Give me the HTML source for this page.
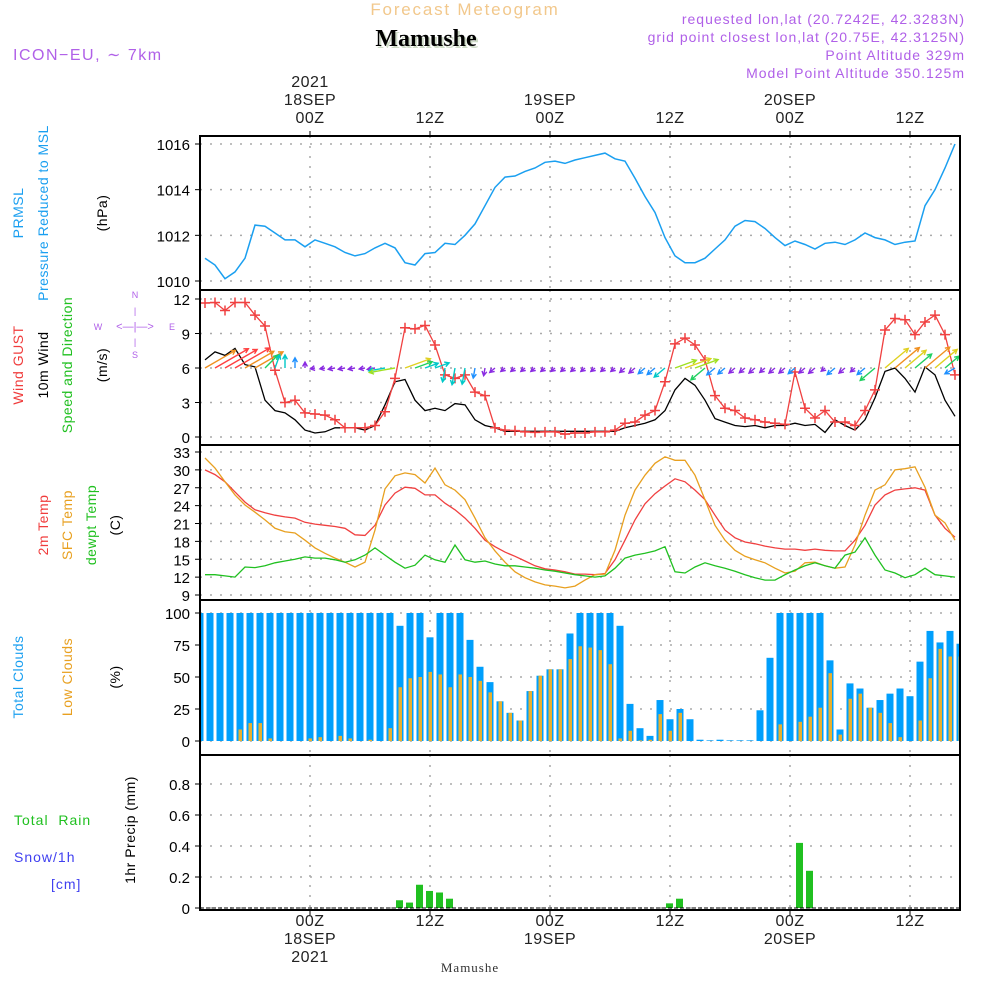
<!DOCTYPE html>
<html><head><meta charset="utf-8"><style>
html,body{margin:0;padding:0;background:#fff;}
svg{display:block;font-family:"Liberation Sans",sans-serif;}
</style></head><body>
<svg id="chart" width="1000" height="1000" viewBox="0 0 1000 1000">
<defs><clipPath id="plotclip"><rect x="200" y="130" width="760" height="785"/></clipPath></defs>
<g id="static">
<text x="465" y="15" fill="#f2c88c" font-size="17" text-anchor="middle" letter-spacing="1.8">Forecast Meteogram</text>
<text x="428" y="48" fill="#cfdcc8" font-size="24" font-weight="bold" font-family="Liberation Serif,serif" text-anchor="middle">Mamushe</text>
<text x="426" y="46" fill="#000" font-size="24" font-weight="bold" font-family="Liberation Serif,serif" text-anchor="middle">Mamushe</text>
<g fill="#b060e8" font-size="14" letter-spacing="1" text-anchor="end">
<text x="965" y="24">requested lon,lat (20.7242E, 42.3283N)</text>
<text x="965" y="42">grid point closest lon,lat (20.75E, 42.3125N)</text>
<text x="965" y="60">Point Altitude 329m</text>
<text x="965" y="78">Model Point Altitude 350.125m</text>
</g>
<text x="13" y="60" fill="#b060e8" font-size="16" letter-spacing="1.5">ICON−EU, ∼ 7km</text>
<text x="970" y="745" fill="#d8d8d8" font-size="14" font-family="Liberation Serif,serif" transform="rotate(-90 978 710)">by Angel</text>
<text x="470" y="972" fill="#333" font-size="13" font-family="Liberation Serif,serif" text-anchor="middle" letter-spacing="1">Mamushe</text>
<g font-size="14" letter-spacing="0.5" text-anchor="middle">
<text transform="translate(23,213) rotate(-90)" fill="#1a9ff0">PRMSL</text>
<text transform="translate(48,213) rotate(-90)" fill="#1a9ff0">Pressure Reduced to MSL</text>
<text transform="translate(107,213) rotate(-90)" fill="#000">(hPa)</text>
<text transform="translate(23,365) rotate(-90)" fill="#f03c3c">Wind GUST</text>
<text transform="translate(48,365) rotate(-90)" fill="#000">10m Wind</text>
<text transform="translate(72,365) rotate(-90)" fill="#20c020">Speed and Direction</text>
<text transform="translate(107,365) rotate(-90)" fill="#000">(m/s)</text>
<text transform="translate(48,525) rotate(-90)" fill="#f03c3c">2m Temp</text>
<text transform="translate(72,525) rotate(-90)" fill="#e8a020">SFC Temp</text>
<text transform="translate(96,525) rotate(-90)" fill="#20c020">dewpt Temp</text>
<text transform="translate(120,525) rotate(-90)" fill="#000">(C)</text>
<text transform="translate(23,677) rotate(-90)" fill="#1a9ff0">Total Clouds</text>
<text transform="translate(72,677) rotate(-90)" fill="#e8a020">Low Clouds</text>
<text transform="translate(120,677) rotate(-90)" fill="#000">(%)</text>
<text transform="translate(135,830) rotate(-90)" fill="#000">1hr Precip (mm)</text>
</g>
<text x="14" y="825" fill="#20c020" font-size="14" letter-spacing="1" xml:space="preserve">Total  Rain</text>
<text x="14" y="862" fill="#4040f0" font-size="14" letter-spacing="1">Snow/1h</text>
<text x="51" y="889" fill="#4040f0" font-size="14" letter-spacing="1">[cm]</text>
<g fill="#b060e8" font-size="9" text-anchor="middle">
<text x="135" y="298">N</text><text x="135" y="358">S</text><text x="98" y="330">W</text><text x="172" y="330">E</text>
<text x="135" y="330" font-size="11">&lt;—|—&gt;</text>
<text x="135" y="314" font-size="9">|</text><text x="135" y="345" font-size="9">|</text>
</g>
</g>
<g id="dyn"></g>
</svg>
<script>
const NS="http://www.w3.org/2000/svg";
const timeTicks=[{h:11,day:"18SEP",yr:"2021",z:"00Z"},{h:23,z:"12Z"},{h:35,day:"19SEP",z:"00Z"},{h:47,z:"12Z"},{h:59,day:"20SEP",z:"00Z"},{h:71,z:"12Z"}];
const pressure=[1011.0,1010.7,1010.1,1010.4,1011.0,1012.45,1012.4,1012.1,1011.8,1011.8,1011.5,1011.8,1011.65,1011.5,1011.25,1011.1,1011.2,1011.45,1011.65,1011.45,1010.8,1010.7,1011.2,1011.25,1011.65,1011.6,1012.0,1012.5,1013.3,1014.1,1014.55,1014.6,1014.8,1014.95,1015.2,1015.25,1015.15,1015.3,1015.4,1015.5,1015.6,1015.35,1015.25,1014.5,1013.7,1013.0,1011.9,1011.1,1010.8,1010.8,1011.0,1011.4,1011.8,1012.4,1012.65,1012.6,1012.3,1011.9,1011.55,1011.75,1011.6,1011.4,1011.65,1011.7,1011.6,1011.8,1012.1,1011.9,1011.8,1011.6,1011.7,1011.75,1013.3,1014.0,1014.95,1016.0];
const wind10m=[6.7,7.4,7.1,7.7,6.3,6.1,3.2,2.3,2.1,1.5,0.6,0.35,0.45,0.8,0.8,0.8,0.6,1.0,2.8,4.8,5.0,3.2,2.3,2.5,2.3,2.9,2.8,1.5,1.0,0.8,0.5,0.5,0.5,0.5,0.5,0.5,0.5,0.5,0.5,0.5,0.5,0.5,0.8,1.0,1.2,1.5,2.3,4.1,5.1,4.5,3.2,1.6,1.3,1.0,0.9,1.0,0.8,1.0,1.0,1.2,1.0,1.1,0.4,1.5,1.0,0.6,1.5,3.4,5.7,6.0,5.1,3.9,6.1,5.4,3.2,1.8];
const gust=[11.65,11.7,11.0,11.7,11.7,10.6,9.65,5.8,3.0,3.2,2.1,2.0,1.9,1.5,0.8,0.8,0.8,1.0,2.2,5.1,9.5,9.4,9.7,8.0,5.4,5.1,5.4,3.9,3.6,0.8,0.6,0.55,0.45,0.4,0.45,0.45,0.25,0.35,0.35,0.45,0.45,0.6,1.2,1.3,1.9,2.3,4.8,8.1,8.6,8.0,6.7,3.6,2.5,2.3,1.65,1.5,1.3,1.2,1.1,5.65,2.5,1.65,2.3,1.3,1.3,1.0,2.3,4.1,9.3,10.3,10.2,8.9,10.0,10.6,8.9,5.4];
const windDir=[240,240,240,240,240,240,225,200,180,180,180,80,80,80,80,80,80,80,80,80,250,250,250,250,10,10,10,10,10,50,50,50,50,50,50,50,50,50,50,50,50,50,50,50,50,50,50,250,250,250,50,50,50,50,50,50,50,50,50,50,50,50,50,50,50,50,50,50,230,230,230,230,230,230,230,60];
const temp2m=[30.0,29.2,28.0,26.3,24.6,23.3,22.8,22.4,22.1,21.9,21.2,20.9,20.7,20.5,20.2,19.1,19.0,20.7,24.1,26.1,27.1,26.9,25.8,25.8,24.4,23.3,21.9,20.2,18.2,17.1,16.2,15.5,14.7,13.9,13.4,13.2,12.9,12.5,12.5,12.4,12.6,14.9,18.2,21.6,24.3,26.0,27.3,28.5,28.0,26.6,25.0,22.4,19.9,18.6,17.9,17.6,17.2,16.9,16.7,16.7,16.5,16.7,16.5,16.4,16.4,18.2,20.7,24.1,25.8,26.6,26.8,27.0,26.6,22.4,20.2,18.7];
const sfcTemp=[32.0,30.3,28.0,25.8,24.1,22.9,21.6,20.2,19.6,19.4,18.2,16.9,16.0,15.2,14.5,13.7,14.5,19.9,26.8,29.0,29.5,29.2,27.8,30.3,27.5,26.6,25.0,21.9,18.6,16.4,14.5,12.9,11.9,11.2,10.7,10.5,10.2,10.5,11.5,12.4,12.5,16.5,22.4,26.6,29.1,31.1,32.2,31.6,31.6,29.1,25.0,20.7,18.2,16.5,15.5,14.9,14.4,13.5,12.7,13.0,14.4,14.5,13.9,13.5,13.7,17.4,22.4,26.6,27.5,30.0,30.2,30.5,27.1,22.4,21.1,18.2];
const dewpt=[12.4,12.4,12.2,12.0,13.7,13.6,13.9,14.4,14.7,15.0,15.4,15.2,15.2,14.9,14.5,14.9,15.7,16.9,15.7,14.5,13.5,14.0,15.7,14.9,14.5,17.4,14.9,14.5,14.7,14.2,13.9,13.9,13.7,13.5,13.2,13.0,12.7,12.4,12.2,12.0,12.2,13.5,15.2,15.7,16.0,16.4,17.1,12.9,12.7,13.7,14.4,13.9,13.5,13.0,12.4,11.9,11.5,11.5,12.4,13.2,13.9,14.4,13.9,13.5,15.7,16.2,18.6,15.7,13.2,12.7,11.9,12.4,13.5,12.4,12.2,12.0];
const totalClouds=[100,100,100,100,100,100,100,100,100,100,100,100,100,100,100,100,100,100,100,100,90,100,100,81,100,100,100,79,58,46,31,22,16,39,51,56,56,84,100,100,100,100,90,29,10,4,32,17,25,17,1,0.5,1,0.5,0.5,0.5,24,65,100,100,100,100,100,63,9,45,41,26,32,37,41,35,62,86,77,86,76];
const lowClouds=[0,0,0,0,9,14,14,2,0,0,0,2,3,0,4,2,0,1,0,10,42,49,50,54,52,42,52,50,47,38,31,22,16,39,51,56,56,64,74,73,71,60,2,8,0.5,1,21,8,22,0,0,0,0,0,0,0,0,0,13,0,15,19,26,53,5,33,37,26,22,14,3,0,16,49,72,66,66];
const precipHours=[20,21,22,23,24,25,47,48,60,61];
const precipVals=[0.05,0.035,0.15,0.11,0.10,0.06,0.03,0.06,0.42,0.24];
const pTicks=[1010,1012,1014,1016],wTicks=[0,3,6,9,12],tTicks=[9,12,15,18,21,24,27,30,33],cTicks=[0,25,50,75,100],rTicks=[0,0.2,0.4,0.6,0.8];

const X=h=>200+10*h;
const panels={p:{top:136,bot:290,y0:281,y1:144,v0:1010,v1:1016},w:{top:290,bot:445,y0:437,y1:299,v0:0,v1:12},t:{top:445,bot:600,y0:595,y1:452,v0:9,v1:33},c:{top:600,bot:755,y0:741,y1:613,v0:0,v1:100},r:{top:755,bot:910,y0:908,y1:784,v0:0,v1:0.8}};
const Y=(k,v)=>{const p=panels[k];return p.y0+(v-p.v0)*(p.y1-p.y0)/(p.v1-p.v0);};
const dyn=document.getElementById('dyn');
function mk(tag,at,parent){const e=document.createElementNS(NS,tag);for(const a in at)e.setAttribute(a,at[a]);(parent||dyn).appendChild(e);return e;}

const tickSets={p:pTicks,w:wTicks,t:tTicks,c:cTicks,r:rTicks};
for(const k in panels){const p=panels[k];
  for(const v of tickSets[k]){const y=Y(k,v);
    const g=mk('line',{x1:200,x2:960,y1:y,y2:y,stroke:'#aaa','stroke-dasharray':'2,8','stroke-width':1.5});
    
    const tk=mk('line',{x1:195,x2:200,y1:y,y2:y,stroke:'#000'});
    
    const t=mk('text',{x:190,y:y+6,'text-anchor':'end','font-size':15,fill:'#000'});
    t.textContent=(k==='r'&&v===0)?'0':(k==='r'?v.toFixed(1):v);
    
  }
  for(const tt of timeTicks){const g=mk('line',{x1:X(tt.h),x2:X(tt.h),y1:p.top,y2:p.bot,stroke:'#aaa','stroke-dasharray':'2,8','stroke-width':1.5});
    }
}
for(const tt of timeTicks){const x=X(tt.h);
  const lines=[[tt.yr,87],[tt.day,105],[tt.z,123]];
  for(const [s,y] of lines){if(!s)continue;const t=mk('text',{x:x,y:y,'text-anchor':'middle','font-size':16,fill:'#222','letter-spacing':'0.5'});t.textContent=s;
    }
  const bl=[[tt.z,926],[tt.day,944],[tt.yr,962]];
  for(const [s,y] of bl){if(!s)continue;const t=mk('text',{x:x,y:y,'text-anchor':'middle','font-size':16,fill:'#222','letter-spacing':'0.5'});t.textContent=s;
    }
  const a=mk('line',{x1:x,x2:x,y1:131,y2:137,stroke:'#000'});
  const b=mk('line',{x1:x,x2:x,y1:909,y2:915,stroke:'#000'});
}

const plot=mk('g',{'clip-path':'url(#plotclip)'});


totalClouds.forEach((v,i)=>{const y=Y('c',v);const r=mk('rect',{x:X(i)-3.5,y:y,width:7,height:Y('c',0)-y,fill:'#009ffc'},plot);
  });
lowClouds.forEach((v,i)=>{const y=Y('c',v);const r=mk('rect',{x:X(i)-1.5,y:y,width:3.5,height:Y('c',0)-y,fill:'#e8b030'},plot);
  });
precipHours.forEach((h,i)=>{const y=Y('r',precipVals[i]);const r=mk('rect',{x:X(h)-4,y:y,width:7,height:Y('r',0)-y,fill:'#20c020'},plot);
  });
const zl=mk('line',{x1:200,x2:960,y1:Y('r',0),y2:Y('r',0),stroke:'#000','stroke-dasharray':'4,2'},plot);


function poly(arr,k,color,name,w){const pts=arr.map((v,i)=>X(i+0.5)+','+Y(k,v).toFixed(1)).join(' ');
  const l=mk('polyline',{points:pts,fill:'none',stroke:color,'stroke-width':w||1.3},plot);
  return l;}
poly(pressure,'p','#1a9ff0','pressure-line',1.5);
poly(wind10m,'w','#000','wind-10m-line',1.3);
poly(gust,'w','#f04040','gust-line',1.3);
gust.forEach((v,i)=>{const x=X(i+0.5),y=Y('w',v);
  const m=mk('path',{d:`M${x-5},${y}H${x+5}M${x},${y-5}V${y+5}`,stroke:'#f04040','stroke-width':1.5},plot);
  });
function spdColor(s){return s<1.2?'#8a2be2':s<2?'#1e90ff':s<3?'#00c8c8':s<4?'#20d060':s<5?'#a0e020':s<6?'#e0d020':s<7?'#f09020':'#ff4040';}
windDir.forEach((d,i)=>{const s=wind10m[i];const th=(d+180)*Math.PI/180;const L=3+s*4.8;
  const x0=X(i+0.5),y0=Y('w',6);const x1=x0+L*Math.sin(th),y1=y0-L*Math.cos(th);
  const ang=Math.atan2(y1-y0,x1-x0);const hl=5;
  const h1x=x1-hl*Math.cos(ang-0.5),h1y=y1-hl*Math.sin(ang-0.5),h2x=x1-hl*Math.cos(ang+0.5),h2y=y1-hl*Math.sin(ang+0.5);
  const a=mk('path',{d:`M${x0},${y0}L${x1},${y1}M${h1x},${h1y}L${x1},${y1}L${h2x},${h2y}`,stroke:spdColor(s),'stroke-width':1.4,fill:'none'},plot);
  });
poly(temp2m,'t','#f04040','temp-2m-line',1.3);
poly(sfcTemp,'t','#e8a020','sfc-temp-line',1.3);
poly(dewpt,'t','#20c020','dewpoint-line',1.3);
for(const k in panels){const p=panels[k];const r=mk('rect',{x:200,y:p.top,width:760,height:p.bot-p.top,fill:'none',stroke:'#000','stroke-width':2});
  }
</script>
</body></html>
